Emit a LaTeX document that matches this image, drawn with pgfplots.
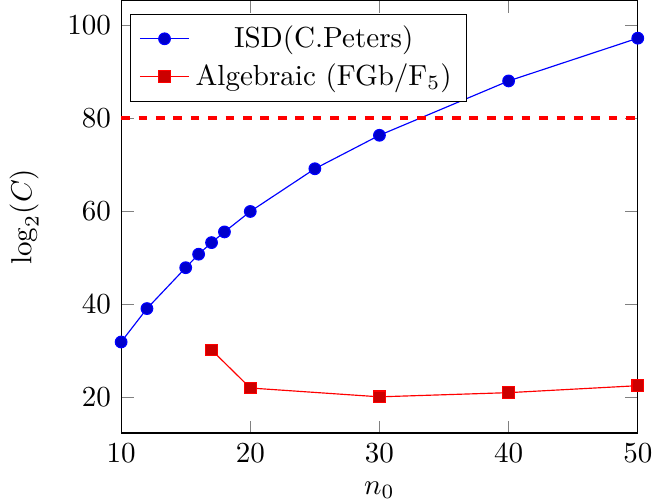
\documentclass[border=0pt]{standalone}
\usepackage{pgfplots}
\pgfplotsset{compat=1.18}
\begin{document}
\begin{tikzpicture}
\begin{axis}[
  scale only axis, width=178pt, height=149pt,
  xmin=10, xmax=50,
  ymin=12.2, ymax=105.3,
  xlabel={$n_0$}, ylabel={$\log_2(C)$},
  ylabel shift=3pt,
  legend cell align=center,
  legend style={at={(axis description cs:0.017,0.97)}, anchor=north west},
]
\addplot coordinates {
  (10,31.8) (12,39.0) (15,47.8) (16,50.7) (17,53.2) (18,55.5)
  (20,59.9) (25,69.1) (30,76.3) (40,88.0) (50,97.2)};
\addplot coordinates {
  (17,30.1) (20,21.9) (30,20.0) (40,20.9) (50,22.4)};
\addplot[red, very thick, dashed, forget plot] coordinates {(10,80) (50,80)};
\legend{ISD(C.Peters), Algebraic (FGb/F$_5$)}
\end{axis}
\pgfresetboundingbox
\path[use as bounding box] ([yshift=2.5pt]current axis.outer south west)
  rectangle ([xshift=-2.4pt]current axis.outer north east);
\end{tikzpicture}
\end{document}
